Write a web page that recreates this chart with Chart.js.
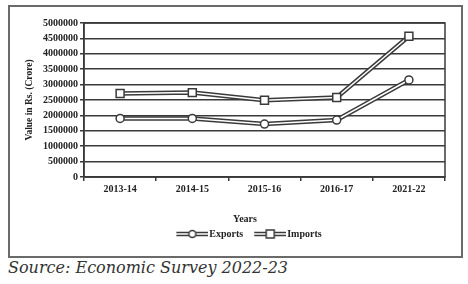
<!DOCTYPE html>
<html>
<head>
<meta charset="utf-8">
<script src="https://cdn.jsdelivr.net/npm/chart.js@4"></script>
<style>
  body { margin: 0; background: #fff; width: 468px; height: 284px; position: relative; overflow: hidden; }
  #frame { position: absolute; left: 8px; top: 5px; width: 451px; height: 249px; border: 2px solid #6a6a6a; }
  #chart { position: absolute; left: 22px; top: 7px; }
  #source { position: absolute; left: 8px; top: 258px; font: italic 16px "DejaVu Serif", serif; color: #333; white-space: nowrap; }
</style>
</head>
<body>
<div id="frame"></div>
<canvas id="chart" width="446" height="250"></canvas>
<div id="source">Source: Economic Survey 2022-23</div>
<script>
// data
const years = ["2013-14", "2014-15", "2015-16", "2016-17", "2021-22"];
const exportsVal = [1900000, 1900000, 1720000, 1850000, 3150000];
const importsVal = [2710000, 2740000, 2490000, 2580000, 4570000];
const yTicksMax = 5000000;
const yTicksStep = 500000;

const ink = "#3a3a3a";
const font = { family: "'Liberation Serif', serif", weight: "bold", size: 10 };

// legend symbol: double line with the marker in the middle
function legendIcon(shape) {
    const c = document.createElement("canvas");
    c.width = 44;
    c.height = 10;
    const g = c.getContext("2d");
    g.strokeStyle = ink;
    g.lineWidth = 4.5;
    g.beginPath(); g.moveTo(12, 5); g.lineTo(44, 5); g.stroke();
    g.strokeStyle = "#fff";
    g.lineWidth = 1.5;
    g.beginPath(); g.moveTo(12, 5); g.lineTo(44, 5); g.stroke();
    g.fillStyle = "#fff";
    g.strokeStyle = ink;
    g.lineWidth = 1.5;
    g.beginPath();
    if (shape === "circle") g.arc(28, 5, 3.5, 0, Math.PI * 2);
    else g.rect(24, 1, 8, 8);
    g.fill(); g.stroke();
    return c;
}
const icons = { Exports: legendIcon("circle"), Imports: legendIcon("rect") };

// box round the plot area
const plotBox = {
    id: "plotBox",
    afterDraw(chart) {
        const { ctx, chartArea: a } = chart;
        ctx.save();
        ctx.strokeStyle = ink;
        ctx.lineWidth = 1.5;
        ctx.strokeRect(a.left, a.top, a.right - a.left, a.bottom - a.top);
        ctx.restore();
    }
};

const outer = { borderColor: ink, borderWidth: 4.5, pointRadius: 0, tension: 0, order: 1 };
const inner = {
    borderColor: "#fff", borderWidth: 1.5, tension: 0, order: 0,
    pointBackgroundColor: "#fff", pointBorderColor: ink, pointBorderWidth: 1.5
};

new Chart(document.getElementById("chart"), {
    type: "line",
    data: {
        labels: years,
        datasets: [
            { ...outer, label: "", data: exportsVal },
            { ...outer, label: "", data: importsVal },
            { ...inner, label: "Exports", data: exportsVal, pointStyle: "circle", pointRadius: 4 },
            { ...inner, label: "Imports", data: importsVal, pointStyle: "rect", pointRadius: 5.6 }
        ]
    },
    options: {
        responsive: false,
        animation: false,
        layout: { padding: { top: 16, bottom: 8, left: 0, right: 0 } },
        scales: {
            x: {
                offset: true,
                grid: { offset: true, drawOnChartArea: false, drawTicks: true, tickLength: 4, color: ink, lineWidth: 1.5 },
                border: { display: true, color: ink, width: 1.5 },
                ticks: { font, color: "#222", padding: 2 },
                afterFit: s => { s.height = 37; }
            },
            y: {
                min: 0,
                max: yTicksMax,
                ticks: { stepSize: yTicksStep, font, color: "#222", padding: 2, callback: v => String(v) },
                grid: { color: ink, lineWidth: 1.5, tickLength: 4 },
                border: { display: true, color: ink, width: 1.5 },
                title: {
                    display: true, text: "Value in Rs. (Crore)",
                    font: { family: "'Liberation Serif', serif", weight: "bold", size: 9.5 },
                    color: "#222", padding: { top: 2, bottom: 0 }
                },
                afterFit: s => { s.width = 62; }
            },
            yRight: {
                position: "right",
                display: true,
                grid: { display: false },
                border: { display: false },
                ticks: { display: false },
                afterFit: s => { s.width = 23; }
            }
        },
        plugins: {
            tooltip: { enabled: false },
            legend: {
                position: "bottom",
                title: {
                    display: true, text: "Years", color: "#222",
                    font: { family: "'Liberation Serif', serif", weight: "bold", size: 10 },
                    padding: { top: 0, bottom: 0 }
                },
                labels: {
                    font, color: "#222", padding: 3,
                    usePointStyle: true, pointStyleWidth: 36,
                    filter: item => item.text !== "",
                    generateLabels: chart => Chart.defaults.plugins.legend.labels.generateLabels(chart)
                        .map(item => ({ ...item, pointStyle: icons[item.text] || item.pointStyle }))
                }
            }
        }
    },
    plugins: [plotBox]
});
</script>
</body>
</html>
